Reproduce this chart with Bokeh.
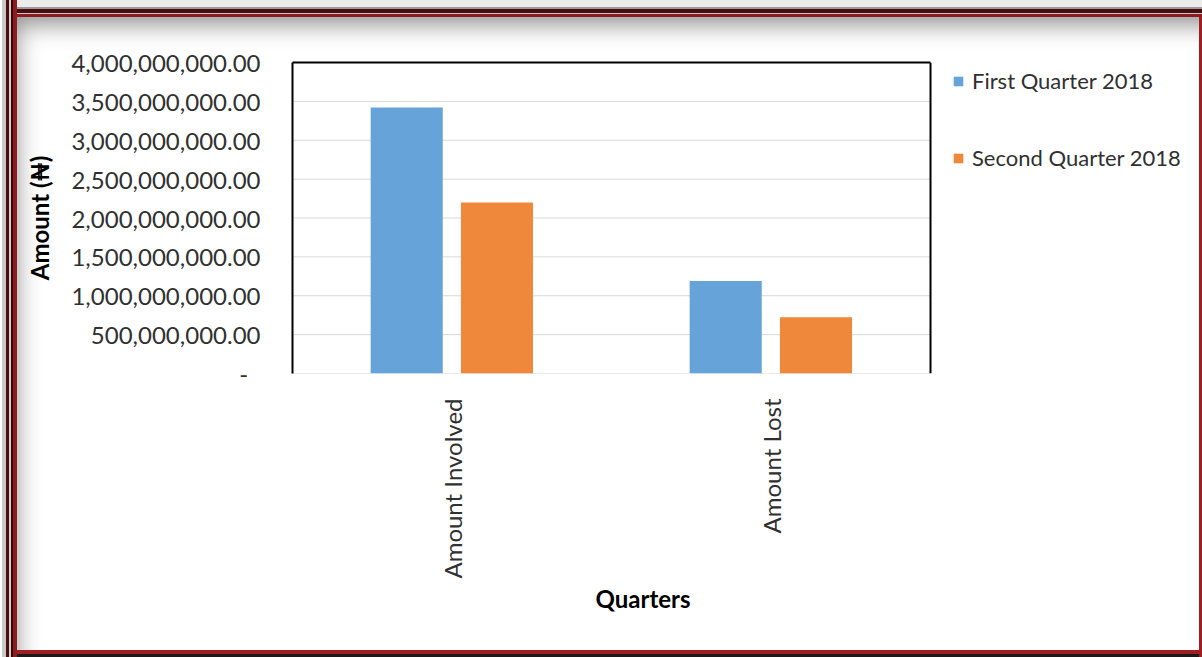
from math import pi

from bokeh.embed import file_html
from bokeh.resources import INLINE
from bokeh.plotting import figure
from bokeh.models import (ColumnDataSource, Range1d, FixedTicker, NumeralTickFormatter,
                          LinearAxis, Legend, LegendItem, Span, Title)

# Fraud amounts (Naira) by category for the first two quarters of 2018
categories = ["Amount Involved", "Amount Lost"]
series_names = ["First Quarter 2018", "Second Quarter 2018"]
first_quarter = [3.42e9, 1.19e9]
second_quarter = [2.20e9, 0.725e9]
y_ticks = [0, 5e8, 1e9, 1.5e9, 2e9, 2.5e9, 3e9, 3.5e9, 4e9]

BLUE = "#66A3D9"
ORANGE = "#F0883B"
FONT = "Lato"
TEXT = "#303030"
SIZE = "24px"

# layout (pixels)
W, H = 1202, 657
LEFT, TOP, BOTTOM = 292, 62, 284
BARS_W = 638          # width of the bar area inside the frame
RIGHT = 12            # the frame continues under the legend
frame_w = W - LEFT - RIGHT
XTITLE_OFFSET = 303   # x axis title position from the left of the frame

n = len(categories)
x_end = n * frame_w / BARS_W
centers = [i + 0.5 for i in range(n)]
bar_w, off1, off2 = 0.226, -0.142, 0.141

source = ColumnDataSource(dict(
    x1=[c + off1 for c in centers], x2=[c + off2 for c in centers],
    q1=first_quarter, q2=second_quarter))

p = figure(width=W, height=H, x_range=Range1d(0, x_end), y_range=Range1d(0, 4e9),
           output_backend="svg", toolbar_location=None,
           min_border_left=LEFT, min_border_right=RIGHT,
           min_border_top=TOP, min_border_bottom=BOTTOM)
p.background_fill_color = None
p.border_fill_color = None
p.outline_line_color = None
p.xgrid.visible = False
p.ygrid.visible = False

# horizontal gridlines limited to the bar area
p.segment(x0=[0] * len(y_ticks), x1=[n] * len(y_ticks), y0=y_ticks, y1=y_ticks,
          line_color="#d9d9d9", line_width=1)

r1 = p.vbar(x="x1", top="q1", width=bar_w, source=source, fill_color=BLUE, line_color=None)
r2 = p.vbar(x="x2", top="q2", width=bar_w, source=source, fill_color=ORANGE, line_color=None)

# y axis
ya = p.yaxis[0]
ya.ticker = FixedTicker(ticks=y_ticks)
ya.formatter = NumeralTickFormatter(format="0,0.00")
ya.major_label_overrides = {0: "-\u00a0\u00a0"}
ya.major_tick_line_color = None
ya.minor_tick_line_color = None
ya.axis_line_color = "black"
ya.axis_line_width = 2
ya.major_label_standoff = 26
ya.major_label_text_font = FONT
ya.major_label_text_font_size = SIZE
ya.major_label_text_color = TEXT
ya.axis_label = "Amount (\u20a6)"
ya.axis_label_text_font = FONT
ya.axis_label_text_font_style = "bold"
ya.axis_label_text_font_size = SIZE
ya.axis_label_text_color = "black"
ya.axis_label_standoff = 14

# x axis: category names at the group centres
xa = p.xaxis[0]
xa.ticker = FixedTicker(ticks=centers)
xa.major_label_overrides = {c: name for c, name in zip(centers, categories)}
xa.major_label_orientation = pi / 2
xa.axis_line_color = None
xa.major_tick_line_color = None
xa.minor_tick_line_color = None
xa.major_label_standoff = 19
xa.major_label_text_font = FONT
xa.major_label_text_font_size = SIZE
xa.major_label_text_color = TEXT

# x axis title
p.add_layout(Title(text="Quarters", align="left", offset=XTITLE_OFFSET,
                   text_font=FONT, text_font_style="bold", text_font_size=SIZE,
                   text_color="black", standoff=0), "below")

# black frame on top and right of the bar area
top_axis = LinearAxis(bounds=(0, n), ticker=FixedTicker(ticks=[]),
                      axis_line_color="black", axis_line_width=2,
                      major_tick_line_color=None, minor_tick_line_color=None)
p.add_layout(top_axis, "above")
p.add_layout(Span(location=n, dimension="height", line_color="black", line_width=2))

legend = Legend(items=[LegendItem(label=series_names[0], renderers=[r1]),
                       LegendItem(label=series_names[1], renderers=[r2])],
                location=(660, 202), orientation="vertical",
                spacing=50, glyph_width=12, glyph_height=12, label_height=20,
                label_standoff=8, padding=0, margin=0,
                border_line_color=None, background_fill_alpha=0,
                label_text_font=FONT, label_text_font_size="22px",
                label_text_color=TEXT)
p.add_layout(legend)

# decorative picture frame around the chart
p.styles = {"box-shadow": ", ".join([
    "inset 2px 0 0 0 #ffffff",
    "inset 6px 0 0 0 #c8c8c8",
    "inset 9px 0 0 0 #4a0c0e",
    "inset 11px 0 0 0 #d0d0d0",
    "inset 13px 0 0 0 #3a0808",
    "inset 17px 0 0 0 #8e1b1f",
    "inset 0 7px 0 0 #ececec",
    "inset 0 9px 0 0 #9a9a9a",
    "inset 0 13px 0 0 #4a0c0e",
    "inset 0 14px 0 0 #c8c8c8",
    "inset 0 17px 0 0 #8e1b1f",
    "inset -3px 0 0 0 #a21d22",
    "inset 0 -3px 0 0 #1a1a1a",
    "inset 0 -7px 0 0 #a21d22",
    "inset 22px 30px 24px -6px rgba(0,0,0,0.45)",
])}

open("out.html", "w").write(file_html(p, INLINE))
